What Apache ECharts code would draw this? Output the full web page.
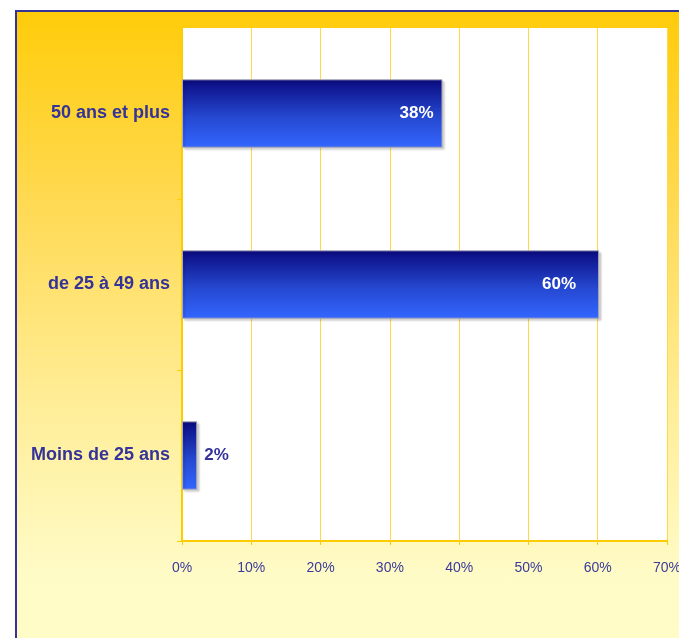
<!DOCTYPE html>
<html>
<head>
<meta charset="utf-8">
<script src="https://cdn.jsdelivr.net/npm/echarts@6/dist/echarts.min.js"></script>
<style>
  html, body { margin: 0; padding: 0; width: 679px; height: 638px; overflow: hidden; background: #ffffff; }
  #frame { position: absolute; left: 15px; top: 10px; width: 700px; height: 660px;
    border-left: 2px solid #333399; border-top: 2px solid #333399;
    background: linear-gradient(to bottom, #FFCC0A 0%, #FFDA55 30%, #FFEE99 60%, #FFFBC6 85%, #FFFCC8 100%); }
  #chart { position: absolute; left: 0; top: 0; width: 679px; height: 638px; }
</style>
</head>
<body>
<div id="frame"></div>
<div id="chart"></div>
<script>
var categories = ['Moins de 25 ans', 'de 25 à 49 ans', '50 ans et plus'];
var values = [2.2, 60.2, 37.6];
var labelTexts = ['2%', '60%', '38%'];
var xTicks = [0, 10, 20, 30, 40, 50, 60, 70];

var chart = echarts.init(document.getElementById('chart'), null, { renderer: 'canvas' });

var barGradient = new echarts.graphic.LinearGradient(0, 0, 0, 1, [
  { offset: 0, color: '#0A0A80' },
  { offset: 0.55, color: '#2548D0' },
  { offset: 1, color: '#3366FF' }
]);

// label placement styling (not data)
var labelDistance = [7, 23, 9];

var data = values.map(function (v, i) {
  var inside = v > 10;
  return {
    value: v,
    label: {
      show: true,
      position: inside ? 'insideRight' : 'right',
      distance: labelDistance[i],
      color: inside ? '#ffffff' : '#333399',
      formatter: labelTexts[i]
    }
  };
});

chart.setOption({
  backgroundColor: 'transparent',
  animation: false,
  grid: {
    left: 182, right: 12, top: 28, bottom: 97,
    outerBoundsMode: 'none',
    containLabel: false,
    show: true, backgroundColor: '#ffffff', borderWidth: 0
  },
  xAxis: {
    type: 'value',
    min: xTicks[0],
    max: xTicks[xTicks.length - 1],
    interval: 10,
    axisLine: { show: true, lineStyle: { color: '#FFCC00', width: 2 } },
    axisTick: { show: true, length: 4, lineStyle: { color: '#FFCC00' } },
    splitLine: { show: true, lineStyle: { color: '#FFD84A', width: 1 } },
    axisLabel: {
      margin: 20,
      color: '#3B3B9A',
      fontFamily: 'Liberation Sans, Arial, sans-serif',
      fontSize: 14,
      formatter: function (v) { return v + '%'; }
    }
  },
  yAxis: {
    type: 'category',
    data: categories,
    axisLine: { show: true, lineStyle: { color: '#FFCC00', width: 2 } },
    axisTick: { show: true, length: 5, inside: false, lineStyle: { color: '#FFCC00' } },
    splitLine: { show: false },
    axisLabel: {
      margin: 12,
      color: '#333399',
      fontFamily: 'Liberation Sans, Arial, sans-serif',
      fontSize: 18,
      fontWeight: 'bold'
    }
  },
  series: [{
    type: 'bar',
    data: data,
    barWidth: '40%',
    itemStyle: {
      color: barGradient,
      borderColor: '#A8A8B8',
      borderWidth: 1,
      shadowColor: 'rgba(0,0,0,0.18)',
      shadowOffsetX: 2,
      shadowOffsetY: 2,
      shadowBlur: 2
    },
    label: {
      fontFamily: 'Liberation Sans, Arial, sans-serif',
      fontSize: 17,
      fontWeight: 'bold'
    }
  }]
});
</script>
</body>
</html>
